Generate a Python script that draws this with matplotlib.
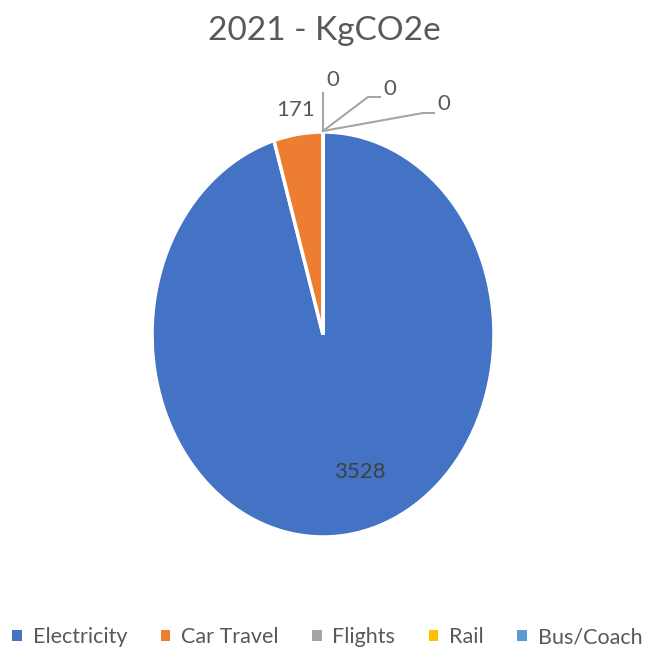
import matplotlib
matplotlib.use("Agg")
import matplotlib.pyplot as plt
from matplotlib.patches import Patch
import numpy as np

categories = ["Electricity", "Car Travel", "Flights", "Rail", "Bus/Coach"]
values = [3528, 171, 0, 0, 0]
colors = ["#4472C4", "#ED7D31", "#A5A5A5", "#FFC000", "#5B9BD5"]
title = "2021 - KgCO2e"

plt.rcParams['font.family'] = ['Lato', 'DejaVu Sans']
txt = "#595959"

fig = plt.figure(figsize=(6.48, 6.55), dpi=100)
ax = fig.add_axes([152/648, 118/655, 342/648, 405/655])
wedges, _ = ax.pie(values, colors=colors, startangle=90, counterclock=False,
                   wedgeprops=dict(edgecolor="white", linewidth=2.5))
ax.set_aspect('auto')
ax.set_xlim(-1, 1)
ax.set_ylim(-1, 1)

# pixel -> data helpers
def dx(px): return (px - 323) / 171.0
def dy(py): return (334.5 - py) / 202.5

fs = 16
ax.text(dx(360), dy(472), str(values[0]), ha='center', va='center', fontsize=fs, color="#404040")
ax.text(dx(296), dy(110), str(values[1]), ha='center', va='center', fontsize=fs, color=txt)

lc = "#A5A5A5"
origin = (dx(323), dy(131))
# Flights
ax.plot([origin[0], dx(323)], [origin[1], dy(93)], color=lc, lw=1.5, clip_on=False)
ax.text(dx(333), dy(80), str(values[2]), ha='center', va='center', fontsize=fs, color=txt)
# Rail
ax.plot([origin[0], dx(368), dx(380)], [origin[1], dy(97), dy(97)], color=lc, lw=1.5, clip_on=False)
ax.text(dx(390), dy(89), str(values[3]), ha='center', va='center', fontsize=fs, color=txt)
# Bus/Coach
ax.plot([origin[0], dx(423), dx(434)], [origin[1], dy(113), dy(113)], color=lc, lw=1.5, clip_on=False)
ax.text(dx(444), dy(104), str(values[4]), ha='center', va='center', fontsize=fs, color=txt)

fig.text(0.5, 1 - 31/655, title, ha='center', va='center', fontsize=24, color=txt)

handles = [Patch(facecolor=c, edgecolor='none') for c in colors]
fig.legend(handles, categories, loc='center', bbox_to_anchor=(0.505, 1 - 637/655), ncol=5,
           frameon=False, fontsize=15.5, handlelength=0.45, handleheight=0.45,
           handletextpad=0.5, columnspacing=1.55, labelcolor=txt)

fig.savefig("out.png", dpi=100, facecolor="white")
